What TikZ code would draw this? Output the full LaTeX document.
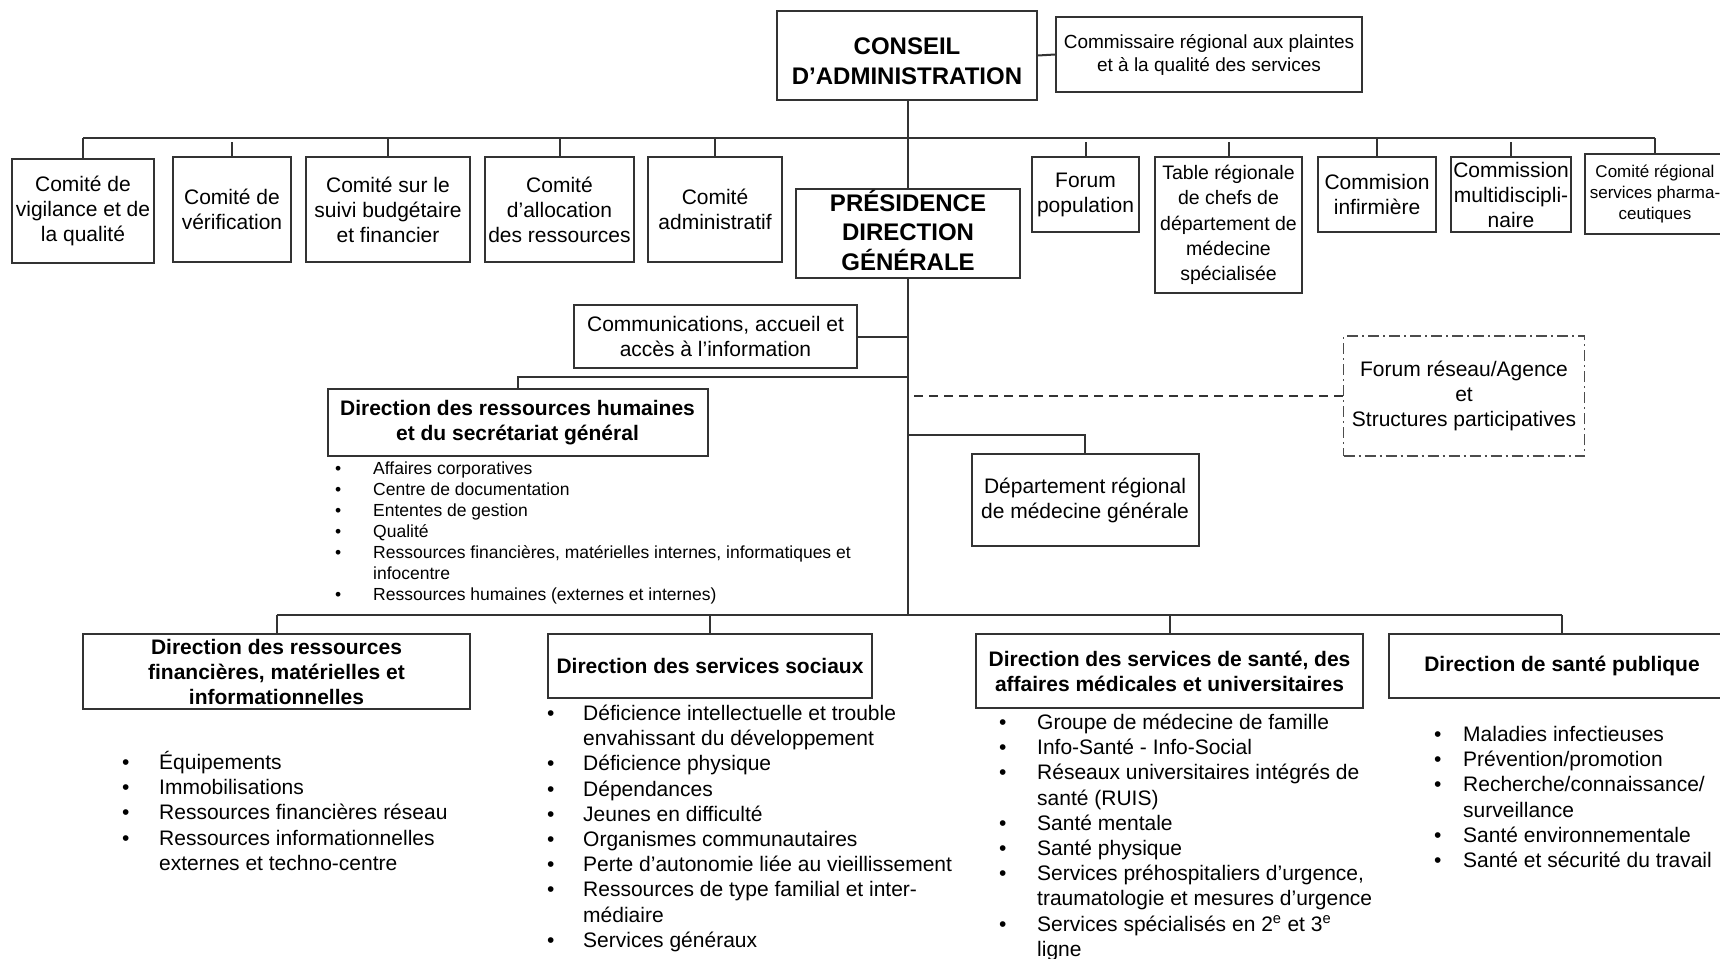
\documentclass[tikz,border=0pt]{standalone}
\usepackage{fontspec}
\setmainfont{Liberation Sans}
\usetikzlibrary{positioning}

\newcommand{\puce}{\textbullet&}
\newenvironment{puces}[1]{\begin{tabular}[t]{@{}p{#1}@{}l@{}}}{\end{tabular}}

\tikzset{
  boite/.style={draw=black!80, line width=2pt, align=center, inner sep=2pt,
    text=black, font=\fontsize{21}{25}\selectfont},
  titre/.style={boite, font=\fontsize{24}{29.5}\selectfont\bfseries},
  direction/.style={boite, font=\fontsize{21}{25}\selectfont\bfseries},
  pointilles/.style={draw=black!70, line width=1.6pt, dash pattern=on 11pt off 4pt on 2pt off 4pt},
  liste/.style={anchor=base west, inner sep=0pt, font=\fontsize{21}{25.2}\selectfont},
  lien/.style={draw=black!80, line width=2pt},
  tirets/.style={lien, dash pattern=on 9pt off 6pt, dash phase=9pt},
}

\begin{document}
\begin{tikzpicture}[x=1pt,y=-1pt]
\useasboundingbox (0,0) rectangle (1720,958);
\clip (0,0) rectangle (1720,958);

\node[titre, text height=58pt, minimum width=260pt, minimum height=89pt] (conseil) at (907,55.5) {CONSEIL\\D'ADMINISTRATION};
\node[boite, font=\fontsize{19}{23}\selectfont, minimum width=306pt, minimum height=75pt] (commissaire) at (1209,54.5) {Commissaire régional aux plaintes\\et à la qualité des services};
\node[titre, text height=74pt, minimum width=224pt, minimum height=89pt] (presid) at (908,233.5) {PRÉSIDENCE\\DIRECTION\\GÉNÉRALE};

\node[boite, minimum width=142pt, minimum height=104pt] (vigilance) at (83,211) {Comité de\\vigilance et de\\la qualité};
\node[boite, minimum width=118pt, minimum height=105pt] (verif) at (232,209.5) {Comité de\\vérification};
\node[boite, minimum width=164pt, minimum height=105pt] (suivi) at (388,209.5) {Comité sur le\\suivi budgétaire\\et financier};
\node[boite, minimum width=149pt, minimum height=105pt] (alloc) at (559.5,209.5) {Comité\\d'allocation\\des ressources};
\node[boite, minimum width=134pt, minimum height=105pt] (admin) at (715,209.5) {Comité\\administratif};
\node[boite, minimum width=107pt, minimum height=75pt] (forum) at (1085.5,194.5) {Forum\\population};
\node[boite, font=\fontsize{19.5}{25.2}\selectfont, minimum width=147pt, minimum height=136pt] (table) at (1228.5,225) {Table régionale\\de chefs de\\département de\\médecine\\spécialisée};
\node[boite, minimum width=118pt, minimum height=75pt] (infirm) at (1377,194.5) {Commision\\infirmière};
\node[boite, minimum width=118pt, minimum height=75pt] (multi) at (1511,194.5) {Commission\\multidiscipli-\\naire};
\node[boite, font=\fontsize{17}{21}\selectfont, minimum width=140pt, minimum height=80pt] (pharma) at (1655,194) {Comité régional\\services pharma-\\ceutiques};

\node[boite, minimum width=283pt, minimum height=63pt] (comm) at (715.5,336.5) {Communications, accueil et\\accès à l'information};
\node[direction, minimum width=380pt, minimum height=67pt] (drh) at (517.5,422.5) {Direction des ressources humaines\\et du secrétariat général};
\node[boite, pointilles, minimum width=241pt, minimum height=120pt] (reseau) at (1464,396) {Forum réseau/Agence\\et\\Structures participatives};
\node[boite, minimum width=227pt, minimum height=92pt] (dep) at (1085,500) {Département régional\\de médecine générale};

\node[liste, font=\fontsize{17.5}{21}\selectfont] (drhliste) at (335,474) {\begin{puces}{38pt}
  \puce Affaires corporatives\\
  \puce Centre de documentation\\
  \puce Ententes de gestion\\
  \puce Qualité\\
  \puce Ressources financières, matérielles internes, informatiques et\\
  & infocentre\\
  \puce Ressources humaines (externes et internes)
\end{puces}};

\node[direction, minimum width=387pt, minimum height=75pt] (drf) at (276.5,671.5) {Direction des ressources\\financières, matérielles et\\informationnelles};
\node[direction, minimum width=324pt, minimum height=64pt] (dss) at (710,666) {Direction des services sociaux};
\node[direction, minimum width=387pt, minimum height=74pt] (dssamu) at (1169.5,671) {Direction des services de santé, des\\affaires médicales et universitaires};
\node[direction, minimum width=346pt, minimum height=64pt] (dsp) at (1562,666) {Direction de santé publique};

\node[liste] (drfliste) at (122,769.5) {\begin{puces}{37pt}
  \puce Équipements\\
  \puce Immobilisations\\
  \puce Ressources financières réseau\\
  \puce Ressources informationnelles\\
  & externes et techno-centre
\end{puces}};
\node[liste] (dssliste) at (547,720.5) {\begin{puces}{36pt}
  \puce Déficience intellectuelle et trouble\\
  & envahissant du développement\\
  \puce Déficience physique\\
  \puce Dépendances\\
  \puce Jeunes en difficulté\\
  \puce Organismes communautaires\\
  \puce Perte d'autonomie liée au vieillissement\\
  \puce Ressources de type familial et inter-\\
  & médiaire\\
  \puce Services généraux
\end{puces}};
\node[liste] (dssamuliste) at (999,729.5) {\begin{puces}{38pt}
  \puce Groupe de médecine de famille\\
  \puce Info-Santé - Info-Social\\
  \puce Réseaux universitaires intégrés de\\
  & santé (RUIS)\\
  \puce Santé mentale\\
  \puce Santé physique\\
  \puce Services préhospitaliers d'urgence,\\
  & traumatologie et mesures d'urgence\\
  \puce Services spécialisés en 2\textsuperscript{e} et 3\textsuperscript{e}\\
  & ligne
\end{puces}};
\node[liste] (dspliste) at (1434,741.5) {\begin{puces}{29pt}
  \puce Maladies infectieuses\\
  \puce Prévention/promotion\\
  \puce Recherche/connaissance/\\
  & surveillance\\
  \puce Santé environnementale\\
  \puce Santé et sécurité du travail
\end{puces}};

\draw[lien] (conseil.east) -- (commissaire.west);
\draw[lien] (presid.north |- conseil.south) -- (presid.north);
\coordinate (busg) at (83,138);
\coordinate (busd) at (1655,138);
\draw[lien] (busg) -- (busd);
\foreach \nom in {vigilance,suivi,alloc,admin,infirm,pharma}
  \draw[lien] (\nom.north) -- (\nom.north |- busg);
\foreach \nom in {verif,forum,table,multi}
  \draw[lien] (\nom.north) -- ++(0,-14);

\coordinate (tdrh) at (908,377);
\coordinate (treseau) at (908,396);
\coordinate (tdep) at (908,435);
\coordinate (bas) at (908,615);
\draw[lien] (presid.south) -- (bas);
\draw[lien] (comm.east) -- (comm.east -| presid.south);
\draw[lien] (drh.north) |- (tdrh);
\draw[tirets] (treseau) -- (reseau.west);
\draw[lien] (tdep) -| (dep.north);

\coordinate (basg) at (276.5,615);
\coordinate (basd) at (1562,615);
\draw[lien] (basg) -- (basd);
\foreach \nom in {drf,dss,dssamu,dsp}
  \draw[lien] (\nom.north) -- (\nom.north |- basg);
\end{tikzpicture}
\end{document}
